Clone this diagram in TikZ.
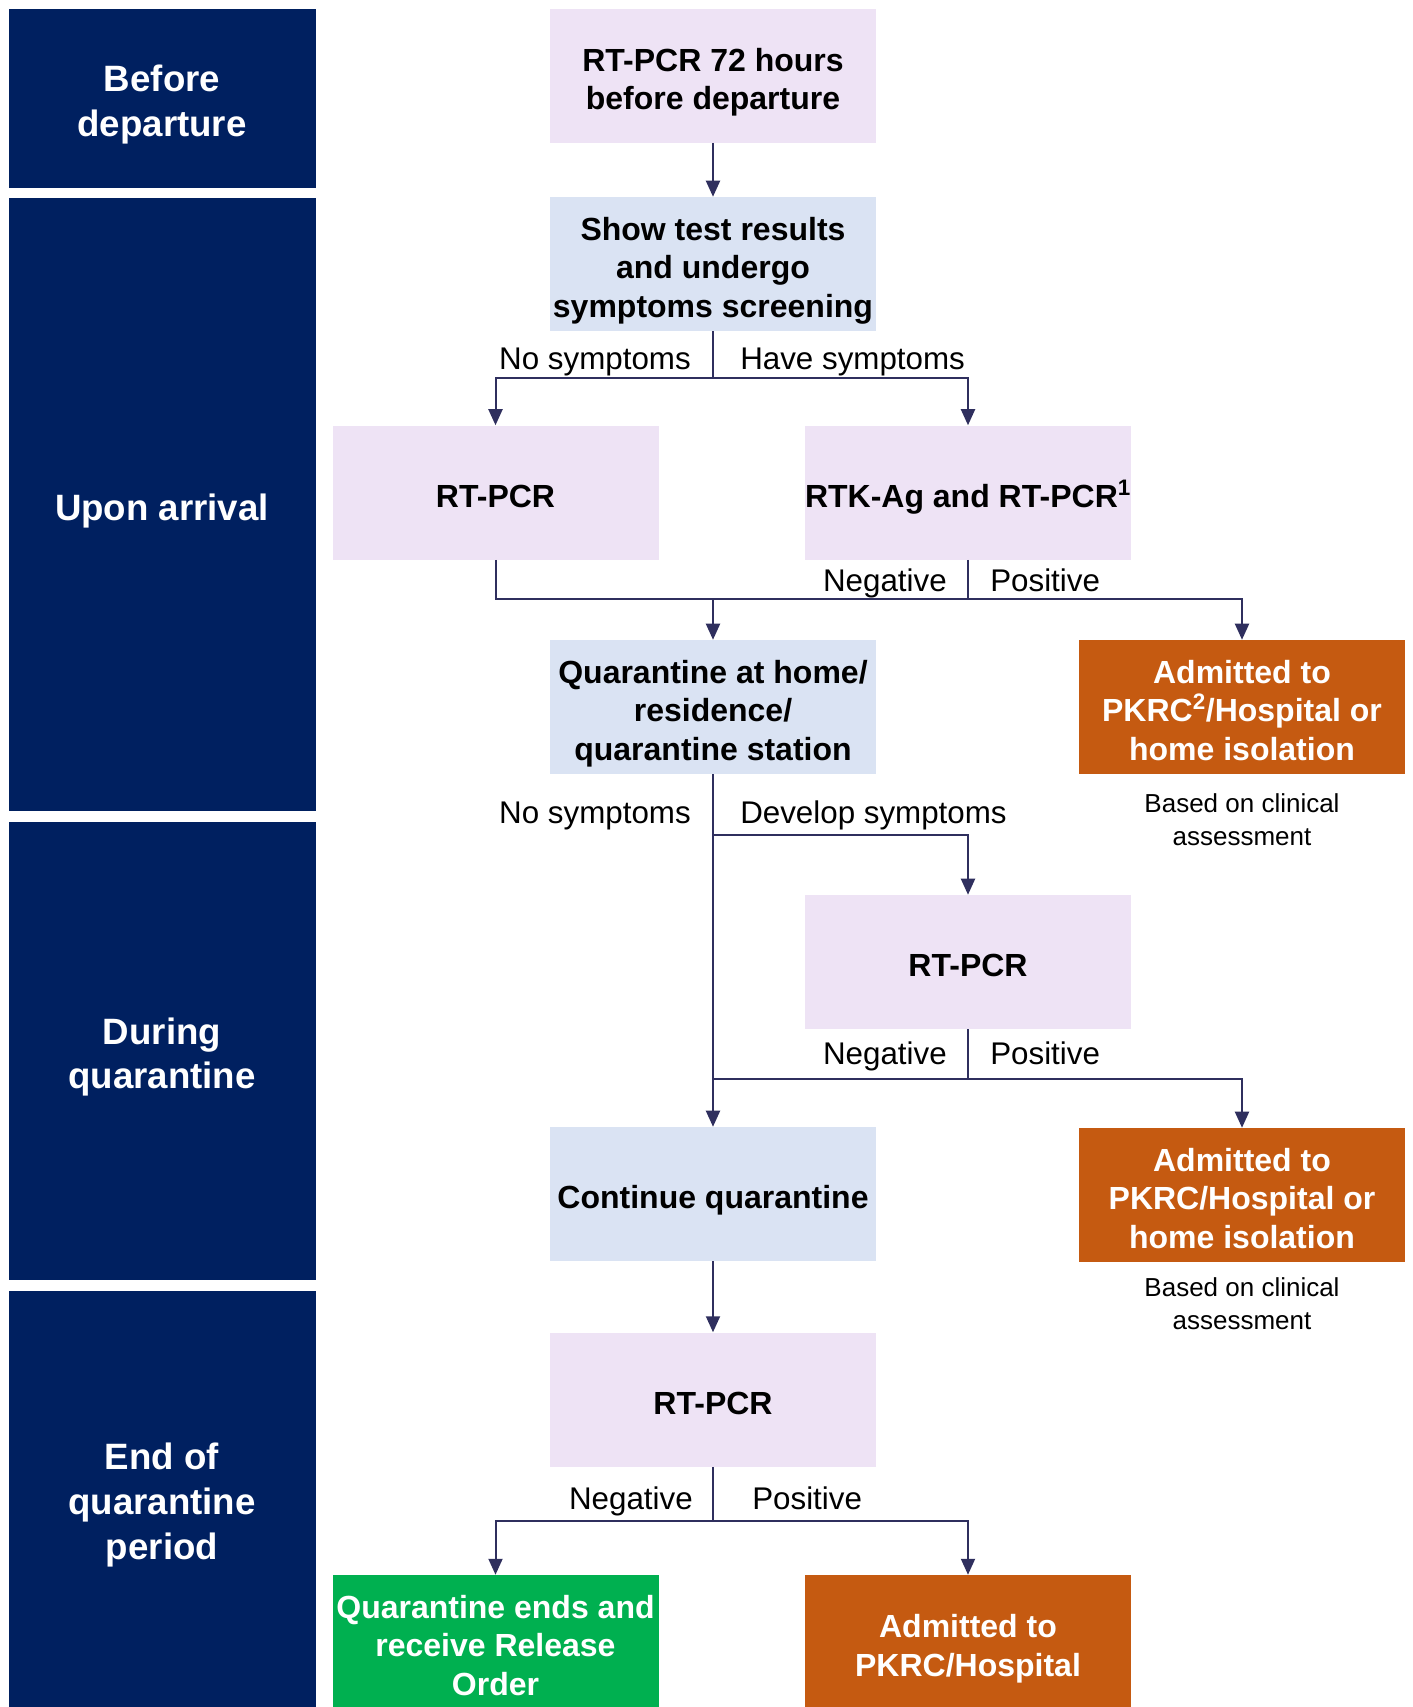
\documentclass[tikz,border=0pt]{standalone}
\usepackage{fontspec}
\setmainfont{Liberation Sans}
\usepackage{xcolor}
\usetikzlibrary{arrows.meta}

\definecolor{bandblue}{HTML}{002060}
\definecolor{testpink}{HTML}{EEE3F5}
\definecolor{screenblue}{HTML}{DAE3F3}
\definecolor{admitorange}{HTML}{C55A11}
\definecolor{releasegreen}{HTML}{00B050}
\definecolor{flowcol}{HTML}{2F2F5E}

% struts that push the first line down a little
\newcommand{\boxlift}{\rule{0pt}{22pt}}
\newcommand{\bandlift}{\rule{0pt}{23.3pt}}

\tikzset{
  band/.style={fill=bandblue, text=white, minimum width=230.25pt, inner sep=0pt,
    align=center, text depth=0pt, font=\fontsize{27.5}{33.5}\selectfont\bfseries},
  box/.style={minimum width=244.5pt, minimum height=100.5pt, inner sep=0pt,
    align=center, text depth=0pt, font=\fontsize{24}{29}\selectfont\bfseries},
  testbox/.style={box, fill=testpink},
  screenbox/.style={box, fill=screenblue},
  admitbox/.style={box, fill=admitorange, text=white},
  releasebox/.style={box, fill=releasegreen, text=white},
  branch/.style={inner sep=0pt, font=\fontsize{23.5}{28}\selectfont},
  note/.style={inner sep=0pt, align=center, font=\fontsize{19.5}{24.5}\selectfont},
  flow/.style={draw=flowcol, line width=1.5pt},
  flowarrow/.style={flow, -{Triangle[width=10.5pt,length=12pt]}}
}

\begin{document}
\begin{tikzpicture}[x=0.75pt, y=-0.75pt]
    \useasboundingbox (0,0) rectangle (1413,1707);

    % Stages
    \node[band, minimum height=134.7pt] (before) at (162,98.5) {\bandlift Before\\departure};
    \node[band, minimum height=459.75pt] (arrival) at (162,504.5) {\bandlift Upon arrival};
    \node[band, minimum height=343.5pt] (during) at (162,1051) {\bandlift During\\quarantine};
    \node[band, minimum height=312pt] (endq) at (162,1499) {\bandlift End of\\quarantine\\period};

    % Boxes
    \node[testbox] (pcrdep) at (713,75.7) {\boxlift RT-PCR 72 hours\\before departure};
    \node[screenbox] (screen) at (713,264) {\boxlift Show test results\\and undergo\\symptoms screening};
    \node[testbox] (pcrarr) at (495.5,492.5) {\boxlift RT-PCR};
    \node[testbox] (rtk) at (968,492.5) {\boxlift RTK-Ag and RT-PCR\textsuperscript{1}};
    \node[screenbox] (quar) at (713,707) {\boxlift Quarantine at home/\\residence/\\quarantine station};
    \node[admitbox] (admitA) at (1242,707) {\boxlift Admitted to\\PKRC\textsuperscript{2}/Hospital or\\home isolation};
    \node[note] (noteA) at (1242,820) {Based on clinical\\assessment};
    \node[testbox] (pcrsym) at (968,962) {\boxlift RT-PCR};
    \node[screenbox] (cont) at (713,1194) {\boxlift Continue quarantine};
    \node[admitbox] (admitB) at (1242,1195) {\boxlift Admitted to\\PKRC/Hospital or\\home isolation};
    \node[note] (noteB) at (1242,1304) {Based on clinical\\assessment};
    \node[testbox] (pcrend) at (713,1399.5) {\boxlift RT-PCR};
    \node[releasebox] (release) at (495.5,1642) {\boxlift Quarantine ends and\\receive Release\\Order};
    \node[admitbox] (admitC) at (968,1642) {\boxlift Admitted to\\PKRC/Hospital};

    % Junctions
    \coordinate (j1) at (713,377.7);
    \coordinate (j2) at (713,598.7);
    \coordinate (j3) at (968,598.7);
    \coordinate (j4) at (713,835);
    \coordinate (j5) at (713,1078.8);
    \coordinate (j6) at (968,1078.8);
    \coordinate (j7) at (713,1520.8);

    % Connectors
    \draw[flowarrow] (pcrdep) -- (screen);
    \draw[flow] (screen) -- (j1);
    \draw[flowarrow] (j1) -| (pcrarr);
    \draw[flowarrow] (j1) -| (rtk);
    \draw[flow] (pcrarr) |- (j3);
    \draw[flow] (rtk) -- (j3);
    \draw[flowarrow] (j2) -- (quar);
    \draw[flowarrow] (j3) -| (admitA);
    \draw[flowarrow] (quar) -- (cont);
    \draw[flowarrow] (j4) -| (pcrsym);
    \draw[flow] (pcrsym) -- (j6);
    \draw[flow] (j6) -- (j5);
    \draw[flowarrow] (j6) -| (admitB);
    \draw[flowarrow] (cont) -- (pcrend);
    \draw[flow] (pcrend) -- (j7);
    \draw[flowarrow] (j7) -| (release);
    \draw[flowarrow] (j7) -| (admitC);

    % Branch labels
    \node[branch, anchor=base east] (nosymA) at (691,369.5) {No symptoms};
    \node[branch, anchor=base west] (havesym) at (740,369.5) {Have symptoms};
    \node[branch, anchor=base east] (negA) at (947,591.5) {Negative};
    \node[branch, anchor=base west] (posA) at (990,591.5) {Positive};
    \node[branch, anchor=base east] (nosymB) at (691,823.5) {No symptoms};
    \node[branch, anchor=base west] (devsym) at (740,823.5) {Develop symptoms};
    \node[branch, anchor=base east] (negB) at (947,1064.5) {Negative};
    \node[branch, anchor=base west] (posB) at (990,1064.5) {Positive};
    \node[branch, anchor=base east] (negC) at (693,1509.5) {Negative};
    \node[branch, anchor=base west] (posC) at (752,1509.5) {Positive};

\end{tikzpicture}
\end{document}
